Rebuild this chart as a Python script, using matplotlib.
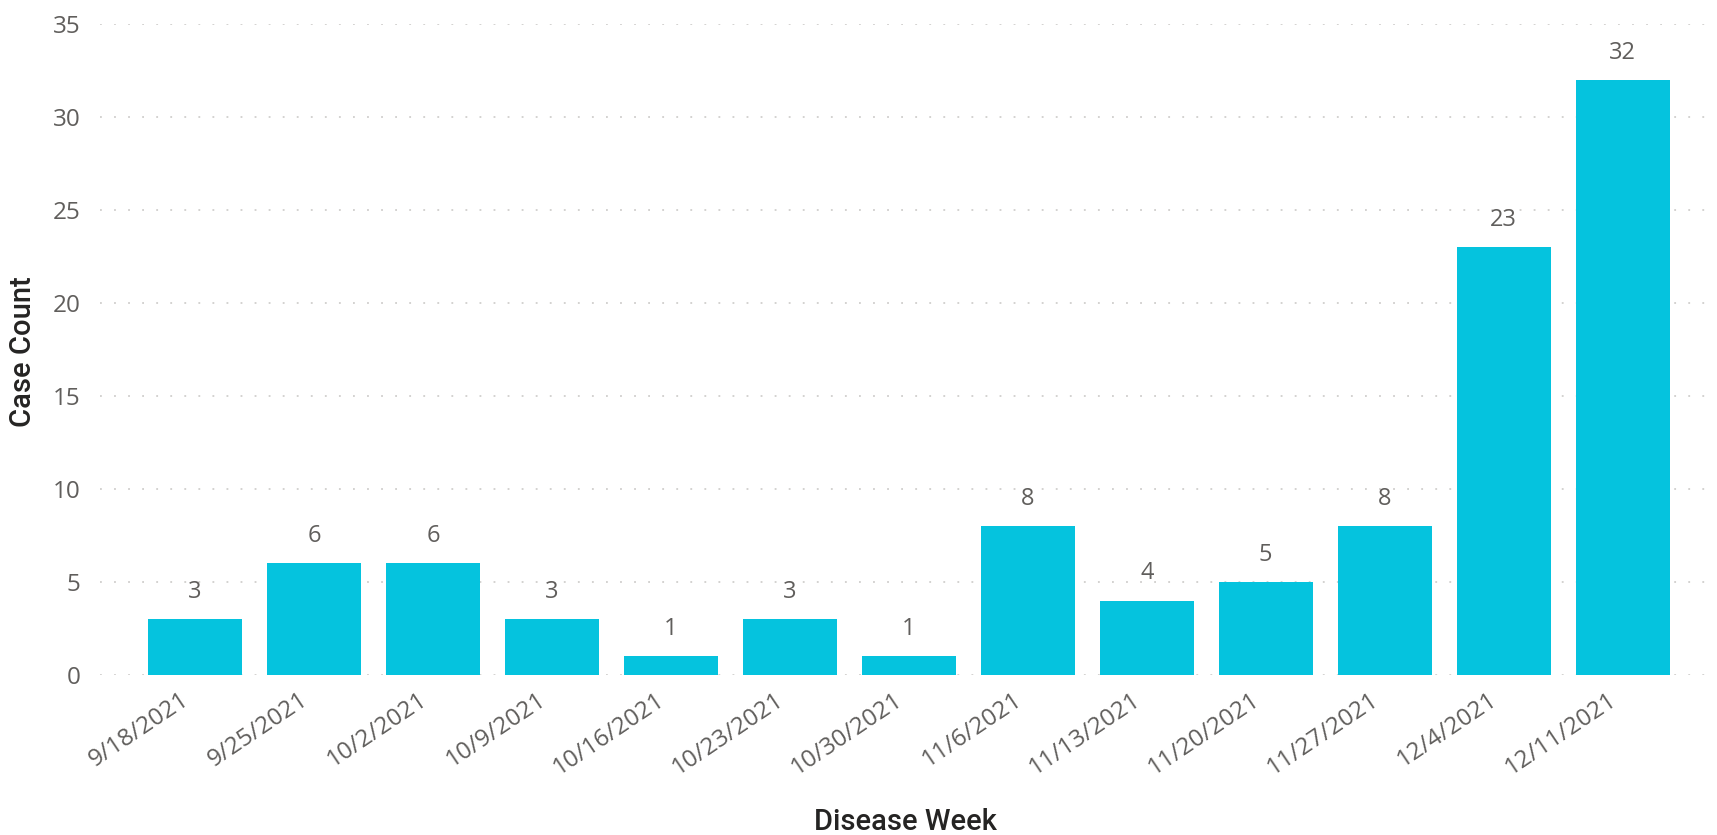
import matplotlib.pyplot as plt
import matplotlib.transforms as mtransforms
import numpy as np

# Data
semanas = ["9/18/2021", "9/25/2021", "10/2/2021", "10/9/2021", "10/16/2021",
           "10/23/2021", "10/30/2021", "11/6/2021", "11/13/2021", "11/20/2021",
           "11/27/2021", "12/4/2021", "12/11/2021"]
casos = [3, 6, 6, 3, 1, 3, 1, 8, 4, 5, 8, 23, 32]

cor_barra = "#05C3DE"
cor_texto = "#605E5C"
cor_titulo = "#252423"

plt.rcParams['font.family'] = ['Open Sans', 'DejaVu Sans']

fig = plt.figure(figsize=(17.17, 8.35), dpi=100)
ax = fig.add_axes([100/1717, 1 - 675/835, (1713-100)/1717, (675-24)/835])

x = np.arange(len(semanas))
barras = ax.bar(x, casos, width=0.79, color=cor_barra, zorder=2)

# rotulos das barras
for xi, v in zip(x, casos):
  ax.annotate(str(v), (xi, v), xytext=(0, 11), textcoords="offset points",
              ha="center", va="bottom", fontsize=17, color=cor_texto)

ax.set_ylim(0, 35)
ax.set_xlim(-0.8, 12.76)
ax.set_yticks(range(0, 36, 5))
ax.set_xticks(x)
ax.set_xticklabels(semanas, rotation=34, ha="right", rotation_mode="anchor",
                   fontsize=17.5, color=cor_texto)
ax.tick_params(axis="y", length=0, pad=14, labelsize=17.5, labelcolor=cor_texto)
ax.tick_params(axis="x", length=0, pad=9)

# desloca os rotulos do eixo x um pouco para a esquerda
desloc = mtransforms.ScaledTranslation(-15/100, 0, fig.dpi_scale_trans)
for lbl in ax.get_xticklabels():
  lbl.set_transform(lbl.get_transform() + desloc)

ax.grid(axis="y", color="#C8C6C4", linestyle=(0, (1.2, 8)), linewidth=1.1, zorder=0)
ax.set_axisbelow(True)
for s in ax.spines.values():
  s.set_visible(False)

fig.text(23/1717, 1 - 352/835, "Case Count", rotation=90, ha="center", va="center",
         fontsize=21, color=cor_titulo, family=["Roboto", "DejaVu Sans"], weight="medium")
fig.text(905/1717, 1 - 822/835, "Disease Week", ha="center", va="center",
         fontsize=21, color=cor_titulo, family=["Roboto", "DejaVu Sans"], weight="medium")

plt.savefig("out.png", dpi=100)
